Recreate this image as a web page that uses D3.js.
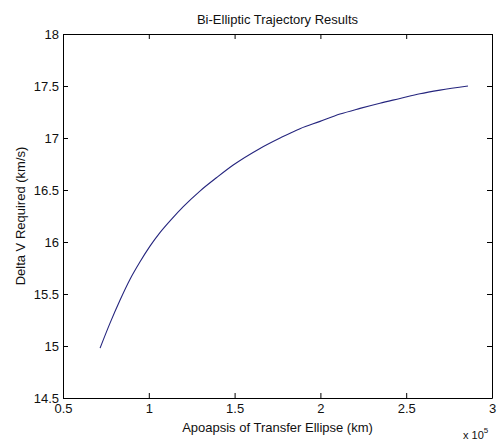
<!DOCTYPE html>
<html><head><meta charset="utf-8">
<script src="https://cdn.jsdelivr.net/npm/d3@7/dist/d3.min.js"></script>
<style>body{margin:0;background:#fff;} text{font-family:"Liberation Sans",Arial,sans-serif;fill:#111;}</style>
</head><body>
<svg id="c" width="497" height="441"></svg>
<script>
// Apoapsis of transfer ellipse (km) and delta V required (km/s)
const apoapsis = [71600, 77400, 83200, 89000, 94900, 100700, 106500, 113300, 120100, 129800, 139600, 149200, 164800, 176500, 188100, 199800, 211400, 223100, 234700, 246400, 258000, 269700, 286000];
const deltaV  = [14.98, 15.22, 15.44, 15.64, 15.81, 15.96, 16.09, 16.22, 16.34, 16.49, 16.62, 16.74, 16.90, 17.00, 17.09, 17.16, 17.23, 17.285, 17.335, 17.38, 17.425, 17.46, 17.50];
const xTicks = [50000, 100000, 150000, 200000, 250000, 300000];
const yTicks = [14.5, 15, 15.5, 16, 16.5, 17, 17.5, 18];
const titleText = "Bi-Elliptic Trajectory Results";
const xLabel = "Apoapsis of Transfer Ellipse (km)";
const yLabel = "Delta V Required (km/s)";

const svg = d3.select("#c");
const L = 63, R = 492, T = 34, B = 398;
const x = d3.scaleLinear().domain([50000, 300000]).range([L, R]);
const y = d3.scaleLinear().domain([14.5, 18]).range([B, T]);
const fs = 13;
const fmtX = d => String(d / 1e5);

svg.append("rect").attr("x", L).attr("y", T).attr("width", R - L).attr("height", B - T).attr("fill", "#fff");

const gb = svg.append("g").attr("transform", `translate(0,${B})`)
  .call(d3.axisBottom(x).tickValues(xTicks).tickFormat(fmtX).tickSizeInner(-5).tickSizeOuter(0).tickPadding(6));
const gt = svg.append("g").attr("transform", `translate(0,${T})`)
  .call(d3.axisTop(x).tickValues(xTicks).tickFormat("").tickSizeInner(-5).tickSizeOuter(0));
const gl = svg.append("g").attr("transform", `translate(${L},0)`)
  .call(d3.axisLeft(y).tickValues(yTicks).tickFormat(d => String(d)).tickSizeInner(-5).tickSizeOuter(0).tickPadding(4));
const gr = svg.append("g").attr("transform", `translate(${R},0)`)
  .call(d3.axisRight(y).tickValues(yTicks).tickFormat("").tickSizeInner(-5).tickSizeOuter(0));

[gb, gt, gl, gr].forEach(g => {
  g.select(".domain").attr("stroke", "#000");
  g.selectAll(".tick line").attr("stroke", "#000");
  g.selectAll(".tick text").attr("font-size", fs).attr("font-family", "Liberation Sans, Arial, sans-serif").attr("fill", "#111");
});
gb.selectAll(".tick text").attr("dy", "0.71em").attr("y", 6);
gl.selectAll(".tick text").attr("x", -4);

const line = d3.line().curve(d3.curveMonotoneX).x((d, i) => x(apoapsis[i])).y(d => y(d));
svg.append("path").datum(deltaV).attr("d", line).attr("fill", "none").attr("stroke", "#25257e").attr("stroke-width", 1.1);

svg.append("text").attr("x", (L + R) / 2).attr("y", 24).attr("text-anchor", "middle").attr("font-size", fs).text(titleText);
svg.append("text").attr("x", (L + R) / 2).attr("y", 432).attr("text-anchor", "middle").attr("font-size", fs).text(xLabel);
svg.append("text").attr("transform", `translate(25,${(T + B) / 2}) rotate(-90)`).attr("text-anchor", "middle").attr("font-size", fs).text(yLabel);

const ex = svg.append("text").attr("x", 463).attr("y", 439).attr("font-size", 11);
ex.append("tspan").text("x 10");
ex.append("tspan").attr("font-size", 8).attr("dy", -6).text("5");
</script>
</body></html>
